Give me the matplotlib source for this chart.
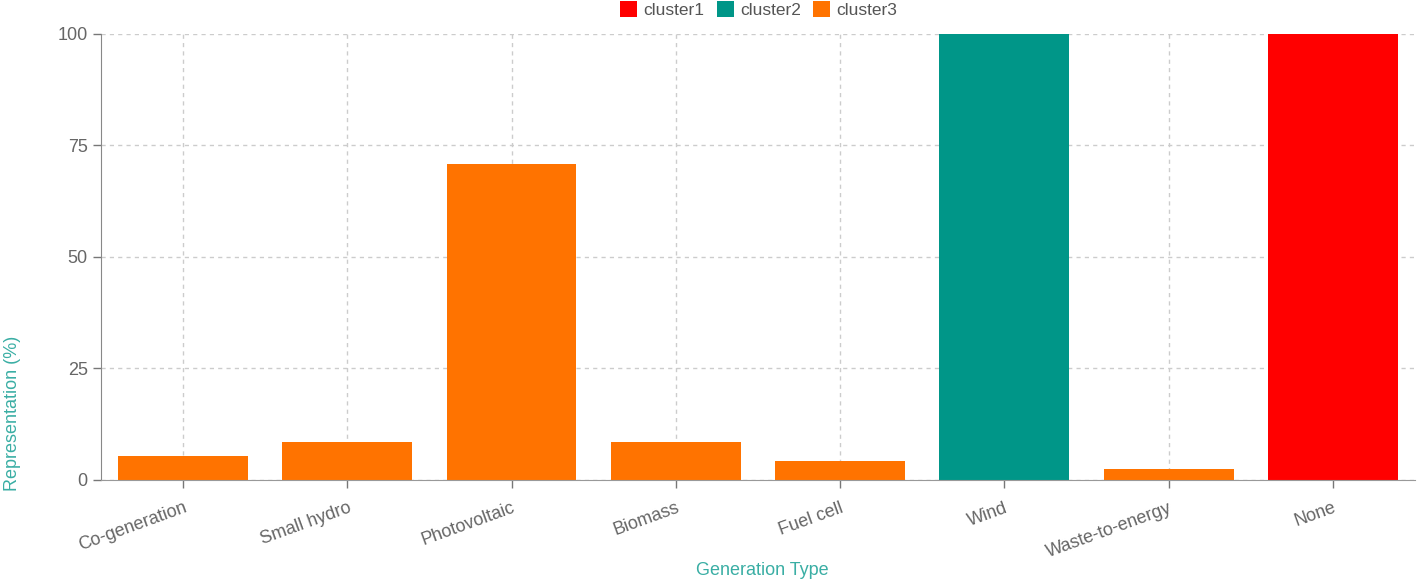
import matplotlib.pyplot as plt
from matplotlib.patches import Patch

plt.rcParams['font.family'] = ['Liberation Sans', 'DejaVu Sans']

categories = ['Co-generation', 'Small hydro', 'Photovoltaic', 'Biomass',
              'Fuel cell', 'Wind', 'Waste-to-energy', 'None']
values = [5.4, 8.5, 70.8, 8.5, 4.3, 100, 2.4, 100]
clusters = ['cluster3', 'cluster3', 'cluster3', 'cluster3',
            'cluster3', 'cluster2', 'cluster3', 'cluster1']
cluster_names = ['cluster1', 'cluster2', 'cluster3']
cluster_colors = {'cluster1': '#ff0000', 'cluster2': '#009688', 'cluster3': '#ff7300'}
y_ticks = [0, 25, 50, 75, 100]

fig = plt.figure(figsize=(14.18, 5.83), dpi=100)
ax = fig.add_axes([0.0712, 0.1767, 0.9267, 0.765])

x = range(len(categories))
ax.bar(x, values, width=0.79, color=[cluster_colors[c] for c in clusters], zorder=3)

ax.set_xlim(-0.5, len(categories) - 0.5)
ax.set_ylim(0, 100)
ax.set_yticks(y_ticks)
ax.set_xticks(list(x))
ax.set_xticklabels(categories, rotation=20, ha='right', rotation_mode='anchor')

ax.grid(True, color='#cccccc', linestyle=(0, (3, 3)), linewidth=1, zorder=0)
for side in ['top', 'right']:
    ax.spines[side].set_visible(False)
ax.spines['left'].set_color('#888888')
ax.spines['bottom'].set_color('#999999')
ax.spines['bottom'].set_linestyle((0, (4, 1)))
ax.spines['left'].set_zorder(4)
ax.spines['bottom'].set_zorder(4)
ax.tick_params(axis='both', colors='#777777', labelcolor='#666666', labelsize=13,
               length=6, width=1)
ax.tick_params(axis='x', pad=8)

label_color = '#3aaea4'
ax.set_ylabel('Representation (%)', color=label_color, fontsize=13)
ax.yaxis.set_label_coords(-0.061, 0.15)
ax.set_xlabel('Generation Type', color=label_color, fontsize=13)
ax.xaxis.set_label_coords(0.503, -0.183)

handles = [Patch(facecolor=cluster_colors[c], label=c) for c in cluster_names]
leg = fig.legend(handles=handles, loc='upper center', bbox_to_anchor=(0.535, 1.025),
                 ncol=3, frameon=False, fontsize=12.5, handlelength=1.0, handleheight=1.0,
                 handletextpad=0.35, columnspacing=0.7)
for t in leg.get_texts():
    t.set_color('#555555')

fig.savefig('out.png', dpi=100)
